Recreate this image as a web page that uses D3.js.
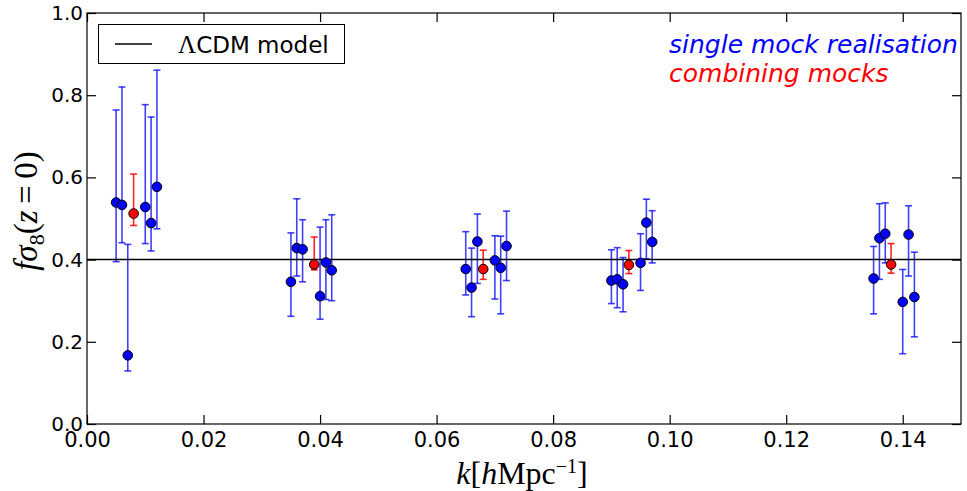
<!DOCTYPE html>
<html><head><meta charset="utf-8">
<script src="https://cdn.jsdelivr.net/npm/d3@7"></script>
<style>body{margin:0;background:#fff;} svg{display:block;}</style>
</head><body>
<svg id="c" width="967" height="491"></svg>
<script>
// single mock realisations (blue)
const mockK    = [0.005,0.006,0.007,0.010,0.011,0.012, 0.035,0.036,0.037,0.040,0.041,0.042, 0.065,0.066,0.067,0.070,0.071,0.072, 0.090,0.091,0.092,0.095,0.096,0.097, 0.135,0.136,0.137,0.140,0.141,0.142];
const mockVal  = [0.539,0.533,0.167,0.528,0.489,0.577, 0.346,0.428,0.425,0.311,0.393,0.374, 0.377,0.332,0.444,0.398,0.380,0.433, 0.349,0.352,0.340,0.392,0.490,0.443, 0.354,0.452,0.463,0.297,0.461,0.309];
const mockLow  = [0.395,0.441,0.129,0.439,0.421,0.475, 0.262,0.360,0.346,0.255,0.303,0.300, 0.314,0.261,0.342,0.304,0.268,0.349, 0.293,0.283,0.273,0.325,0.402,0.392, 0.268,0.352,0.392,0.171,0.360,0.212];
const mockHigh = [0.764,0.820,0.437,0.777,0.747,0.861, 0.465,0.548,0.497,0.479,0.497,0.509, 0.468,0.428,0.511,0.458,0.457,0.518, 0.424,0.429,0.405,0.463,0.547,0.519, 0.432,0.536,0.538,0.376,0.531,0.418];
// combined mocks (red)
const combK    = [0.008,0.039,0.068,0.093,0.138];
const combVal  = [0.512,0.388,0.377,0.387,0.388];
const combLow  = [0.483,0.375,0.352,0.366,0.367];
const combHigh = [0.608,0.455,0.423,0.422,0.439];
const modelValue = 0.4;
const xTicks = [0.00,0.02,0.04,0.06,0.08,0.10,0.12,0.14];
const yTicks = [0.0,0.2,0.4,0.6,0.8,1.0];

(function(){
const L=87, R=961, T=13, B=424;
const svg = d3.select("#c");
const x = d3.scaleLinear().domain([0,0.15]).range([L,R]);
const y = d3.scaleLinear().domain([0,1]).range([B,T]);

function errorbars(ks, vs, lo, hi, color, op){
  const g = svg.append("g").attr("stroke",color).attr("stroke-opacity",op).attr("stroke-width",1.6).attr("fill","none");
  ks.forEach((k,i)=>{
    const px=x(k);
    g.append("line").attr("x1",px).attr("x2",px).attr("y1",y(lo[i])).attr("y2",y(hi[i]));
    g.append("line").attr("x1",px-3.5).attr("x2",px+3.5).attr("y1",y(lo[i])).attr("y2",y(lo[i]));
    g.append("line").attr("x1",px-3.5).attr("x2",px+3.5).attr("y1",y(hi[i])).attr("y2",y(hi[i]));
  });
}
errorbars(mockK, mockVal, mockLow, mockHigh, "#0000ff", 0.75);
errorbars(combK, combVal, combLow, combHigh, "#ff0000", 0.85);

// model line
svg.append("line").attr("x1",L).attr("x2",R).attr("y1",y(modelValue)).attr("y2",y(modelValue))
  .attr("stroke","#000").attr("stroke-width",1.5);

svg.append("g").selectAll("circle").data(mockK).join("circle")
  .attr("cx",d=>x(d)).attr("cy",(d,i)=>y(mockVal[i])).attr("r",4.8)
  .attr("fill","#0000ff").attr("stroke","#000").attr("stroke-width",1);
svg.append("g").selectAll("circle").data(combK).join("circle")
  .attr("cx",d=>x(d)).attr("cy",(d,i)=>y(combVal[i])).attr("r",4.8)
  .attr("fill","#ff0000").attr("stroke","#000").attr("stroke-width",1);

// axes (inward ticks on all sides)
const tl = 9;
const font = "'DejaVu Sans', sans-serif";
const axB = d3.axisBottom(x).tickValues(xTicks).tickSizeInner(-tl).tickSizeOuter(0).tickFormat(d3.format(".2f")).tickPadding(8);
const axT = d3.axisTop(x).tickValues(xTicks).tickSizeInner(-tl).tickSizeOuter(0).tickFormat("");
const axL = d3.axisLeft(y).tickValues(yTicks).tickSizeInner(-tl).tickSizeOuter(0).tickFormat(d3.format(".1f")).tickPadding(4);
const axR = d3.axisRight(y).tickValues(yTicks).tickSizeInner(-tl).tickSizeOuter(0).tickFormat("");
function style(g, fs){
  g.select(".domain").remove();
  g.selectAll(".tick line").attr("stroke","#000").attr("stroke-width",1.2);
  g.selectAll("text").attr("fill","#000").style("font-family",font).style("font-size",fs+"px");
}
svg.append("g").attr("transform",`translate(0,${B})`).call(axB).call(g=>style(g,21))
  .selectAll("text").attr("dy","0.72em");
svg.append("g").attr("transform",`translate(0,${T})`).call(axT).call(g=>style(g,20));
svg.append("g").attr("transform",`translate(${L},0)`).call(axL).call(g=>style(g,20));
svg.append("g").attr("transform",`translate(${R},0)`).call(axR).call(g=>style(g,20));
svg.append("rect").attr("x",L).attr("y",T).attr("width",R-L).attr("height",B-T)
  .attr("fill","none").attr("stroke","#000").attr("stroke-width",1.2);

// axis labels
const serif = "'Liberation Serif','DejaVu Serif',serif";
const xl = svg.append("text").attr("x",522).attr("y",484).attr("text-anchor","middle")
  .style("font-family",serif).style("font-size","32px").attr("fill","#000");
xl.append("tspan").attr("font-style","italic").text("k");
xl.append("tspan").text("[");
xl.append("tspan").attr("font-style","italic").text("h");
xl.append("tspan").text("Mpc");
xl.append("tspan").attr("dy","-11").style("font-size","20px").text("−1");
xl.append("tspan").attr("dy","11").text("]");

const yl = svg.append("text").attr("transform","translate(37,211) rotate(-90)").attr("text-anchor","middle")
  .style("font-family",serif).style("font-size","33px").attr("fill","#000");
yl.append("tspan").attr("font-style","italic").text("fσ");
yl.append("tspan").attr("dy","7").style("font-size","22px").text("8");
yl.append("tspan").attr("dy","-7").text("(");
yl.append("tspan").attr("font-style","italic").text("z");
yl.append("tspan").text("\u2009=\u20090)");

// legend
svg.append("rect").attr("x",98.5).attr("y",24.5).attr("width",246).attr("height",39)
  .attr("fill","#fff").attr("stroke","#000").attr("stroke-width",1);
svg.append("line").attr("x1",115).attr("x2",152).attr("y1",44).attr("y2",44).attr("stroke","#000").attr("stroke-width",1.5);
const lt = svg.append("text").attr("x",178).attr("y",53).style("font-size","23px").attr("fill","#000");
lt.append("tspan").style("font-family",serif).style("font-size","25px").text("Λ");
lt.append("tspan").style("font-family",font).text("CDM model");

// annotations
svg.append("text").attr("x",669).attr("y",53).style("font-family",font).style("font-style","italic")
  .style("font-size","25px").attr("fill","#0000ff").text("single mock realisation");
svg.append("text").attr("x",669).attr("y",82).style("font-family",font).style("font-style","italic")
  .style("font-size","25px").attr("fill","#ff0000").text("combining mocks");
})();
</script>
</body></html>
